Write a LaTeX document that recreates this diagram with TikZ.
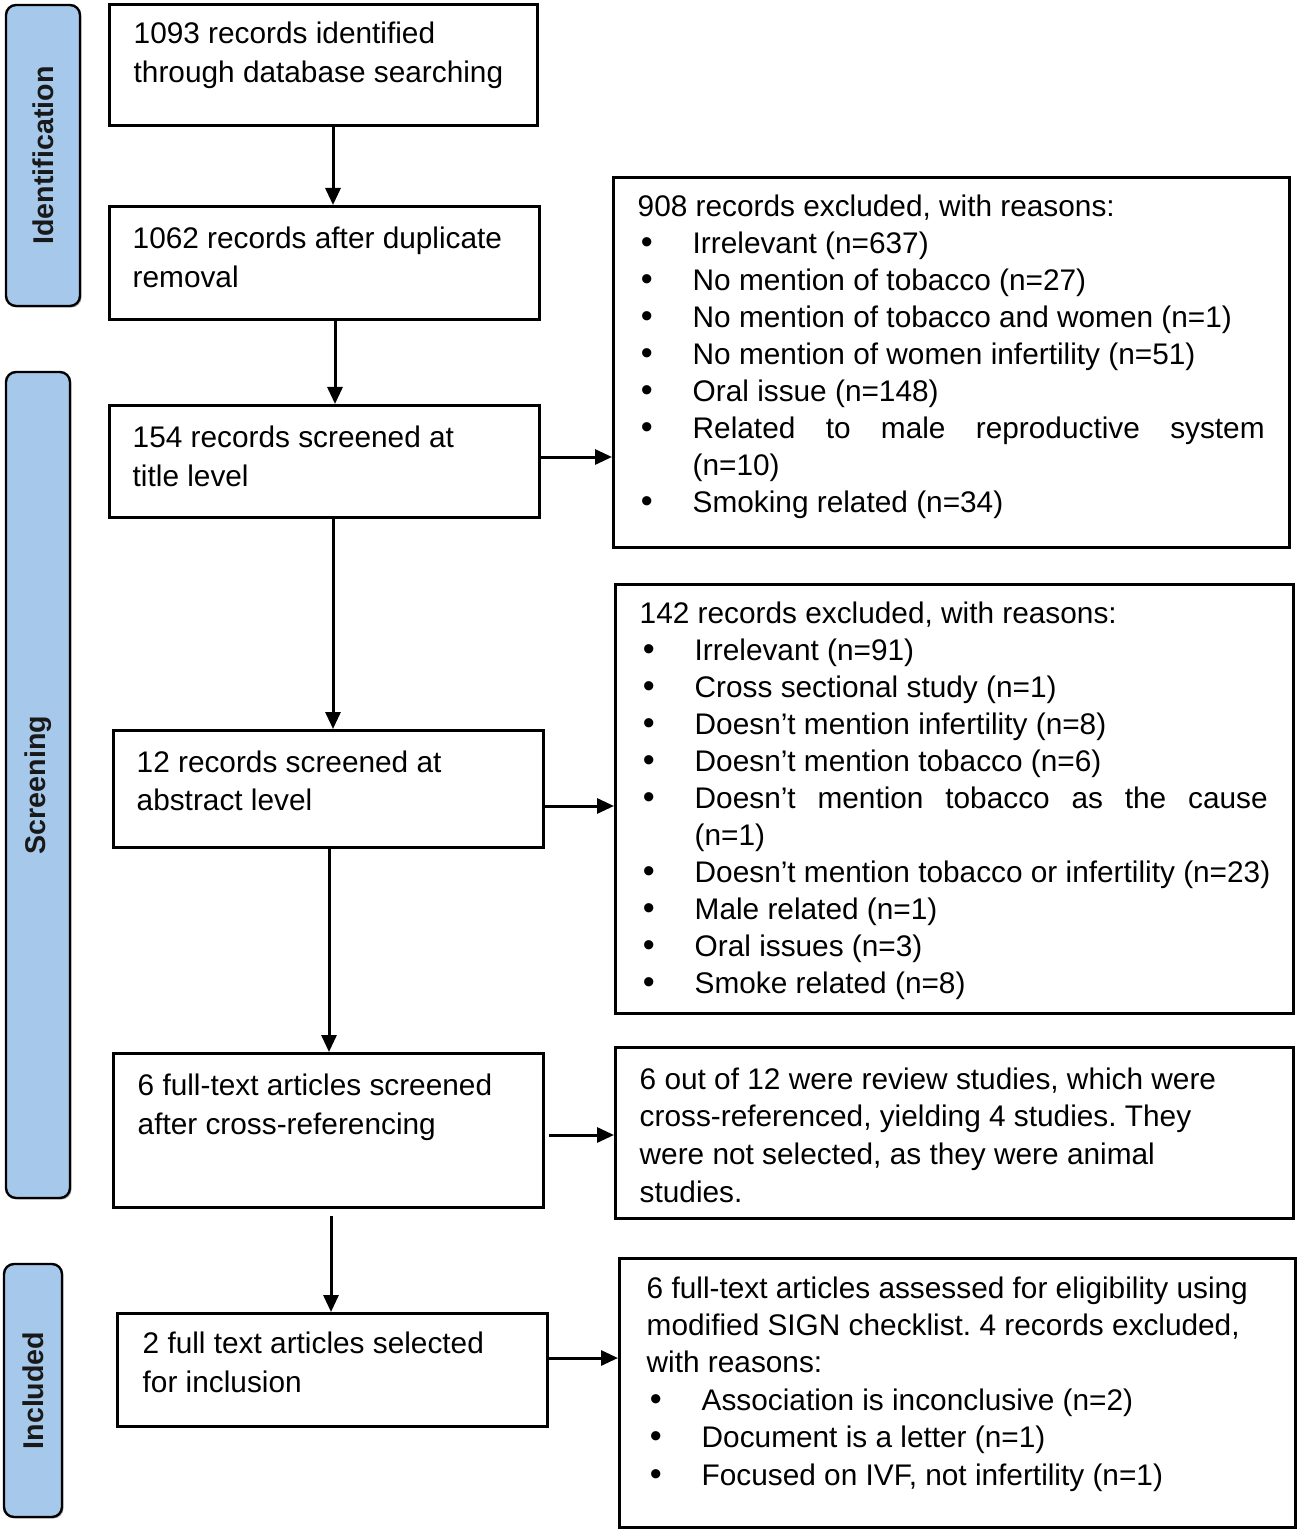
\documentclass[tikz,border=0pt]{standalone}
\usepackage{fontspec}
\setmainfont{Liberation Sans}
\usetikzlibrary{arrows.meta,shadows}
\definecolor{sidefill}{HTML}{A5C8EB}
\newcommand\mystrut{\rule[-4.5pt]{0pt}{13pt}}
% #1 width, #2 height, #3 top pad, #4 left pad, #5 baselineskip, #6 text
\newcommand\bxt[6]{\parbox[c][#2][t]{#1}{\fontsize{14.9}{#5}\selectfont\frenchspacing\raggedright\leftskip=#4\relax\vspace*{#3}\mystrut #6}}
\newcommand\bul{\leavevmode\hspace*{1.6pt}\makebox[25.9pt][l]{\fontsize{17}{17}\selectfont•}}
\newcommand\indt{\leavevmode\hspace*{27.5pt}}
\tikzset{
  box/.style={draw, line width=1.7pt, inner sep=0pt, anchor=north west},
  arr/.style={line width=1.5pt, -{Triangle[length=8.5pt,width=7.5pt]}},
  side/.style={draw, line width=1.2pt, fill=sidefill, rounded corners=5pt, rotate=90,
    font=\fontsize{14.3}{16}\selectfont\bfseries, text=black!90, inner sep=0pt,
    drop shadow={shadow xshift=0.8pt, shadow yshift=-0.8pt, opacity=0.5}}
}
\begin{document}
\begin{tikzpicture}[x=0.5pt, y=-0.5pt]
\useasboundingbox (0,0) rectangle (1299,1529);

% side labels
\node[side, minimum width=150.5pt, minimum height=37pt] (sid) at (43,155.5) {Identification};
\node[side, minimum width=413pt, minimum height=32pt] (ssc) at (38,785) {Screening};
\node[side, minimum width=126.5pt, minimum height=29pt] (sin) at (33,1390.5) {Included};

% left column
\node[box] (b1) at (108,3) {\bxt{214pt}{60.5pt}{8.85pt}{12pt}{19.5pt}{1093 records identified\\through database searching}};
\node[box] (b2) at (108,205) {\bxt{215pt}{56.5pt}{10.35pt}{11.5pt}{19.5pt}{1062 records after duplicate\\removal}};
\node[box] (b3) at (108,404) {\bxt{215pt}{56pt}{10.35pt}{11.5pt}{19.5pt}{154 records screened at\\title level}};
\node[box] (b4) at (112,729) {\bxt{215pt}{58.5pt}{9.85pt}{11.5pt}{19.5pt}{12 records screened at\\abstract level}};
\node[box] (b5) at (112,1052) {\bxt{215pt}{77pt}{9.85pt}{12pt}{19.5pt}{6 full-text articles screened\\after cross-referencing}};
\node[box] (b6) at (116,1312) {\bxt{215pt}{56.5pt}{8.85pt}{12.5pt}{19.5pt}{2 full text articles selected\\for inclusion}};

% right column
\node[box] (r1) at (612,176) {\bxt{338pt}{185pt}{8.85pt}{12pt}{18.45pt}{908 records excluded, with reasons:\\
\bul Irrelevant (n=637)\\
\bul No mention of tobacco (n=27)\\
\bul No mention of tobacco and women (n=1)\\
\bul No mention of women infertility (n=51)\\
\bul Oral issue (n=148)\\
\bul \makebox[286pt][s]{Related to male reproductive system}\\
\indt (n=10)\\
\bul Smoking related (n=34)}};

\node[box] (r2) at (614,583) {\bxt{339pt}{214.5pt}{8.85pt}{12pt}{18.45pt}{142 records excluded, with reasons:\\
\bul Irrelevant (n=91)\\
\bul Cross sectional study (n=1)\\
\bul Doesn’t mention infertility (n=8)\\
\bul Doesn’t mention tobacco (n=6)\\
\bul \makebox[286.5pt][s]{Doesn’t mention tobacco as the cause}\\
\indt (n=1)\\
\bul Doesn’t mention tobacco or infertility (n=23)\\
\bul Male related (n=1)\\
\bul Oral issues (n=3)\\
\bul Smoke related (n=8)}};

\node[box] (r3) at (614,1046) {\bxt{339pt}{85.5pt}{9.85pt}{12pt}{18.85pt}{6 out of 12 were review studies, which were\\
cross-referenced, yielding 4 studies. They\\
were not selected, as they were animal\\
studies.}};

\node[box] (r4) at (618,1257) {\bxt{338pt}{134.5pt}{8.85pt}{13.5pt}{18.7pt}{6 full-text articles assessed for eligibility using\\
modified SIGN checklist. 4 records excluded,\\
with reasons:\\
\bul Association is inconclusive (n=2)\\
\bul Document is a letter (n=1)\\
\bul Focused on IVF, not infertility (n=1)}};

% vertical arrows
\coordinate (c1) at (333,0);
\coordinate (c2) at (335,0);
\coordinate (c3) at (333,0);
\coordinate (c4) at (329,0);
\coordinate (c5) at (331,0);
\draw[arr] (b1.south -| c1) -- (b2.north -| c1);
\draw[arr] (b2.south -| c2) -- (b3.north -| c2);
\draw[arr] (b3.south -| c3) -- (b4.north -| c3);
\draw[arr] (b4.south -| c4) -- (b5.north -| c4);
\draw[arr, shorten <=3.5pt] (b5.south -| c5) -- (b6.north -| c5);

% horizontal arrows
\coordinate (h1) at (0,457);
\coordinate (h2) at (0,806);
\coordinate (h3) at (0,1135);
\coordinate (h4) at (0,1358);
\draw[arr] (b3.east |- h1) -- (r1.west |- h1);
\draw[arr] (b4.east |- h2) -- (r2.west |- h2);
\draw[arr, shorten <=2pt] (b5.east |- h3) -- (r3.west |- h3);
\draw[arr] (b6.east |- h4) -- (r4.west |- h4);
\end{tikzpicture}
\end{document}
